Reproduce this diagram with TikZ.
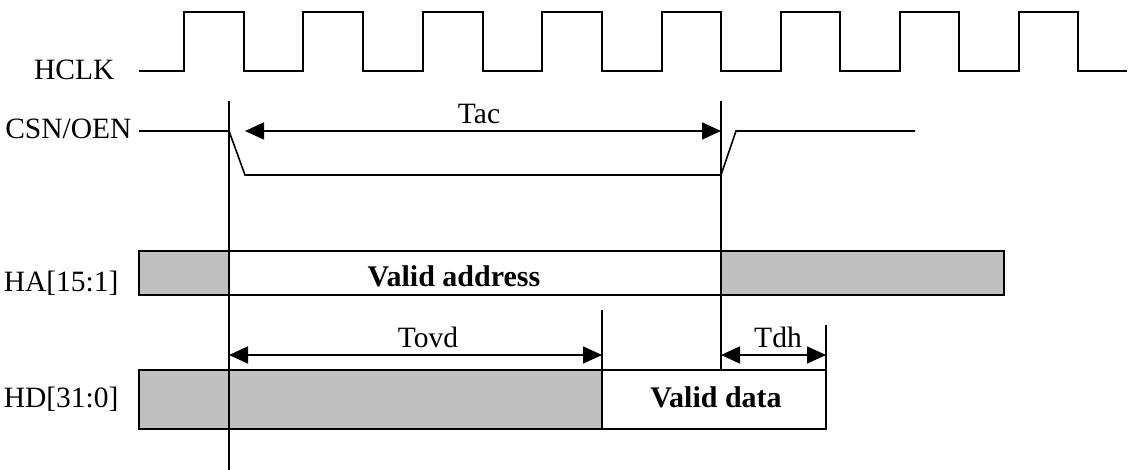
\documentclass[tikz,border=0pt]{standalone}
\usepackage{fontspec}
\setmainfont{Liberation Serif}
\usetikzlibrary{arrows.meta}
\definecolor{busgray}{RGB}{192,192,192}
\tikzset{
  sig/.style={line width=1.6pt},
  dimarrow/.style={line width=1.6pt,{Triangle[length=19pt,width=17pt]}-{Triangle[length=19pt,width=17pt]}},
  siglabel/.style={anchor=base east,font=\fontsize{29.5}{32}\selectfont},
  timelabel/.style={anchor=base,font=\fontsize{29.5}{32}\selectfont},
  buslabel/.style={anchor=base,font=\fontsize{30}{32}\selectfont\bfseries}
}
\begin{document}
\begin{tikzpicture}[x=1pt,y=-1pt]
\useasboundingbox (0,0) rectangle (1128,470);
% signal names
\node[siglabel] (hclk)at(118,80){HCLK};
\node[siglabel] (csn)at(135,139){CSN/OEN};
\node[siglabel] (ha)at(122,292){HA[15:1]};
\node[siglabel] (hd)at(122,408){HD[31:0]};
% clock
\draw[sig] (139,71) -| (184,12) -| (244,71) -| (303,12) -| (363,71) -| (423,12) -| (483,71)
  -| (542,12) -| (602,71) -| (662,12) -| (721,71) -| (781,12) -| (840,71) -| (900,12)
  -| (959,71) -| (1019,12) -| (1078,71) -- (1127,71);
% chip select / output enable
\draw[sig] (139,131) -- (229,131) -- (245,175) -- (721,175) -- (736,131) -- (915,131);
% address bus
\draw[sig,fill=busgray] (139,251) rectangle (229,295);
\draw[sig] (229,251) rectangle (721,295);
\draw[sig,fill=busgray] (721,251) rectangle (1004,295);
\node[buslabel] (addr)at(454,287){Valid address};
% data bus
\draw[sig,fill=busgray] (139,370) rectangle (602,429);
\draw[sig] (602,370) rectangle (826,429);
\node[buslabel] (data)at(716,407){Valid data};
% reference lines
\draw[sig] (229,101) -- (229,470);
\draw[sig] (721,101) -- (721,370);
\draw[sig] (602,310) -- (602,429);
\draw[sig] (826,325) -- (826,429);
% timings
\coordinate (tacA) at (245,131);
\coordinate (tacB) at (721,131);
\coordinate (tovdA) at (229,355);
\coordinate (tovdB) at (602,355);
\coordinate (tdhA) at (721,355);
\coordinate (tdhB) at (826,355);
\draw[dimarrow] (tacA) -- (tacB);
\draw[dimarrow] (tovdA) -- (tovdB);
\draw[dimarrow] (tdhA) -- (tdhB);
\node[timelabel] (tac)at(479,124){Tac};
\node[timelabel] (tovd)at(428,348){Tovd};
\node[timelabel] (tdh)at(778,348){Tdh};
\end{tikzpicture}
\end{document}
